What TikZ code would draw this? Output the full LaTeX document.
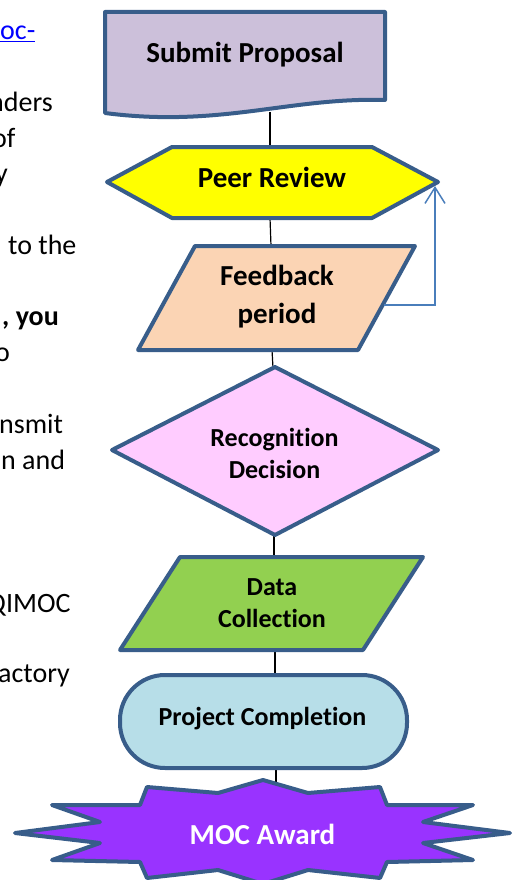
\documentclass[tikz,border=0pt]{standalone}
\usepackage{fontspec}
\setmainfont{Carlito}[Ligatures=NoCommon]
\usetikzlibrary{arrows.meta}
\definecolor{bord}{HTML}{385D8A}
\definecolor{linkblue}{HTML}{0000FF}
\definecolor{loopblue}{HTML}{4A7EBB}
\definecolor{subfill}{HTML}{CCC0DA}
\definecolor{peerfill}{HTML}{FFFF00}
\definecolor{fbfill}{HTML}{FBD4B4}
\definecolor{recfill}{HTML}{FFCCFF}
\definecolor{datafill}{HTML}{92D050}
\definecolor{projfill}{HTML}{B7DEE8}
\definecolor{mocfill}{HTML}{9933FF}
\begin{document}
\begin{tikzpicture}[x=1pt,y=-1pt,
  shapeline/.style={draw=bord,line width=4pt,line join=round},
  conn/.style={draw=black,line width=1.2pt},
  loop/.style={draw=loopblue,line width=1.5pt,-{Straight Barb[length=16pt,width=20pt]}},
  lbl/.style={font=\bfseries\fontsize{29}{38}\selectfont,align=center,inner sep=0pt},
  lblsm/.style={font=\bfseries\fontsize{26}{32}\selectfont,align=center,inner sep=0pt},
  body/.style={font=\fontsize{28}{34}\selectfont,anchor=base west,inner sep=0pt}]
\fill[white] (0,0) rectangle (514,880);
\useasboundingbox (0,0) rectangle (514,880);

% cropped body text on the left
\node[body,text=linkblue] (b1) at (0,40) {\underline{oc-}};
\node[body] (b2) at (-11,111.4) {nders};
\node[body] (b3) at (-8,147) {of};
\node[body] (b4) at (-5,182.8) {y};
\node[body] (b5) at (8,254) {to the};
\node[body] (b6) at (2,325) {\bfseries , you};
\node[body] (b7) at (-5,361) {o};
\node[body] (b8) at (-1,433) {nsmit};
\node[body] (b9) at (1,469.5) {n and};
\node[body] (b10) at (-13,612) {QIMOC};
\node[body] (b11) at (-2,682) {actory};

% connector end points
\coordinate (spB) at (270,112);
\coordinate (prT) at (270,147);
\coordinate (prB) at (270,218);
\coordinate (fbT) at (271,246);
\coordinate (fbB) at (272,350);
\coordinate (rdT) at (273,368);
\coordinate (rdB) at (274,535);
\coordinate (dcT) at (274,557);
\coordinate (dcB) at (275,650);
\coordinate (pcT) at (275,675);
\coordinate (pcB) at (276,768);
\coordinate (mocT) at (276,786);
\coordinate (fbR) at (384,305);
\coordinate (prR) at (435,186);

% connectors
\draw[conn] (spB) -- (prT);
\draw[conn] (prB) -- (fbT);
\draw[conn] (fbB) -- (rdT);
\draw[conn] (rdB) -- (dcT);
\draw[conn] (dcB) -- (pcT);
\draw[conn] (pcB) -- (mocT);

% shapes
\path[shapeline,fill=subfill] (105,12) -- (385,12) -- (385,100)
  .. controls (290,97) and (220,128) .. (105,113) -- cycle;
\path[shapeline,fill=peerfill] (107,182) -- (172,147) -- (372,147) -- (438,182)
  -- (372,218) -- (172,218) -- cycle;
\path[shapeline,fill=fbfill] (195,246) -- (415,246) -- (358,350) -- (138,350) -- cycle;
\path[shapeline,fill=recfill] (275,367) -- (438,450) -- (275,535) -- (112,450) -- cycle;
\path[shapeline,fill=datafill] (180,557) -- (423,557) -- (363,650) -- (120,650) -- cycle;
\path[shapeline,fill=projfill,rounded corners=45pt] (120,675) rectangle (407,768);
\path[shapeline,fill=mocfill] (263,780) -- (308,793) -- (380,787) -- (387,805)
  -- (473,805) -- (423,822) -- (510,833) -- (423,843) -- (473,860) -- (387,862)
  -- (380,878) -- (308,870) -- (263,884) -- (218,870) -- (147,878) -- (140,862)
  -- (52,860) -- (100,843) -- (15,833) -- (100,822) -- (52,805) -- (140,805)
  -- (147,787) -- (218,793) -- cycle;

% feedback loop
\draw[loop] (fbR) -| (prR);

% labels
\node[lbl,anchor=base] (sp) at (245,63) {Submit Proposal};
\node[lbl,anchor=base] (pr) at (272,187) {Peer Review};
\node[lbl] (fb) at (277,297) {Feedback\\period};
\node[lblsm] (rd) at (274.5,453) {Recognition\\Decision};
\node[lblsm] (dc) at (272,603) {Data\\Collection};
\node[lblsm,anchor=base] (pc) at (262.5,725) {Project Completion};
\node[lbl,anchor=base,text=white] (moc) at (262.5,844) {MOC Award};
\end{tikzpicture}
\end{document}
